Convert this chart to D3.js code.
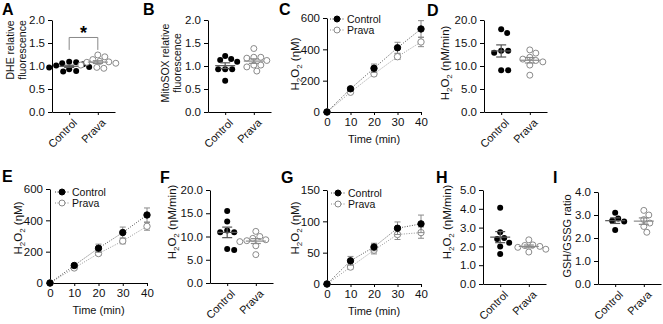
<!DOCTYPE html>
<html lang="en">
<head>
<meta charset="UTF-8" />
<title>Prava figure</title>
<script src="https://cdn.jsdelivr.net/npm/d3@7"></script>
<style>
  body { margin: 0; background: #fff; }
</style>
</head>
<body>
<script>
// ---- data ----
const groups = ["Control", "Prava"];
const times = [0, 10, 20, 30, 40];

// A: DHE relative fluorescence
const dheControl = [1.09, 1.08, 1.06, 1.04, 1.01, 0.98, 0.97, 0.93, 0.89, 0.88];
const dhePrava = [1.24, 1.20, 1.14, 1.10, 1.09, 1.08, 1.06, 1.02, 0.97, 0.95];
// B: MitoSOX relative fluorescence
const mitoControl = [1.22, 1.15, 1.13, 1.09, 0.93, 0.93, 0.93, 0.68];
const mitoPrava = [1.38, 1.19, 1.19, 1.17, 1.12, 1.02, 1.02, 0.98, 0.89];
// C: H2O2 time course (nM)
const cControlMean = [0, 148, 279, 410, 530];
const cControlSE = [0, 10, 27, 35, 53];
const cPravaMean = [0, 126, 243, 353, 447];
const cPravaSE = [0, 8, 12, 18, 30];
// D: H2O2 rate (nM/min)
const dControl = [18.0, 17.2, 13.3, 13.3, 12.9, 9.1, 9.1];
const dPrava = [13.5, 12.8, 11.9, 11.5, 11.2, 10.9, 10.2, 8.0];
// E: H2O2 time course (nM)
const eControlMean = [0, 112, 222, 322, 434];
const eControlSE = [0, 8, 26, 35, 45];
const ePravaMean = [0, 96, 188, 268, 362];
const ePravaSE = [0, 6, 10, 18, 25];
// F: H2O2 rate (nM/min)
const fControl = [15.5, 13.2, 11.3, 10.9, 10.9, 7.3, 7.1];
const fPrava = [11.1, 10.0, 9.6, 9.3, 9.1, 8.9, 8.0, 6.1];
// G: H2O2 time course (nM)
const gControlMean = [0, 37, 59, 89, 96];
const gControlSE = [0, 7, 6, 10, 14];
const gPravaMean = [0, 27, 54, 79, 82];
const gPravaSE = [0, 3, 6, 8, 9];
// H: H2O2 rate (nM/min)
const hControl = [4.05, 2.75, 2.45, 2.4, 2.2, 2.0, 1.6];
const hPrava = [2.35, 2.08, 2.05, 2.0, 1.95, 1.85, 1.7];
// I: GSH/GSSG ratio
const iControl = [3.1, 2.85, 2.75, 2.72, 2.35];
const iPrava = [3.2, 3.0, 2.8, 2.65, 2.5, 2.25];

// ---- drawing ----
const W = 663, H = 324;
const font = "Arial, 'Liberation Sans', sans-serif";
const pravaCol = "#8a8a8a";

const svg = d3.select("body").append("svg")
    .attr("width", W)
    .attr("height", H)
    .style("font-family", font);

function styleAxis(g) {
    g.attr("font-family", null).attr("font-size", 11.5);
    g.select(".domain").attr("stroke", "#000");
    g.selectAll(".tick line").attr("stroke", "#000");
    g.selectAll(".tick text").attr("fill", "#111");
}

function letter(txt, x, y) {
    svg.append("text").attr("x", x).attr("y", y)
        .attr("font-size", 16).attr("font-weight", "bold").text(txt);
}

// y label, either plain lines or the H2O2 one with subscripts
function yLabel(x, y, lines, size) {
    lines.forEach((ln, i) => {
        svg.append("text")
            .attr("transform", `translate(${x + i * 12},${y}) rotate(-90)`)
            .attr("text-anchor", "middle").attr("dy", "0.35em")
            .attr("font-size", size || 10.5).attr("fill", "#111").text(ln);
    });
}

function h2o2Label(x, y, unit) {
    let t = svg.append("text")
        .attr("transform", `translate(${x},${y}) rotate(-90)`)
        .attr("text-anchor", "middle").attr("dy", "0.35em")
        .attr("font-size", 11.5).attr("fill", "#111");
    t.append("tspan").text("H");
    t.append("tspan").text("2").attr("font-size", 8).attr("dy", 3);
    t.append("tspan").text("O").attr("dy", -3);
    t.append("tspan").text("2").attr("font-size", 8).attr("dy", 3);
    t.append("tspan").text(" (" + unit + ")").attr("dy", -3);
}

// simple beeswarm so dots with close values spread sideways
function swarm(values, y, r) {
    let order = d3.range(values.length).sort((a, b) => values[b] - values[a]);
    let placed = [];
    let off = [];
    let minD = 2 * r + 0.4;
    for (let i of order) {
        let yi = y(values[i]);
        for (let k = 0; k < 60; k++) {
            let dx = k === 0 ? 0 : (k % 2 ? 1 : -1) * Math.ceil(k / 2);
            if (placed.every(p => (p.dx - dx) ** 2 + (p.y - yi) ** 2 >= minD * minD)) {
                placed.push({ dx: dx, y: yi });
                off[i] = dx;
                break;
            }
        }
    }
    return off;
}

function scatterPanel(p) {
    let y = d3.scaleLinear().domain([0, p.yMax]).range([p.bottom, p.top]);
    let x = d3.scalePoint().domain(groups).range([p.left, p.left + 63]).padding(0.6);

    svg.append("g").attr("transform", `translate(${p.left},0)`)
        .call(d3.axisLeft(y).tickValues(p.ticks).tickFormat(d3.format(".1f")).tickSize(4).tickSizeOuter(0))
        .call(styleAxis);

    svg.append("g").attr("transform", `translate(0,${p.bottom})`)
        .call(d3.axisBottom(x).tickSize(3).tickSizeOuter(0).tickFormat(""))
        .call(styleAxis);

    svg.append("g").selectAll("text").data(groups).join("text")
        .attr("transform", d => `translate(${x(d) + 3},${p.bottom + 6}) rotate(-45)`)
        .attr("text-anchor", "end").attr("dy", "0.71em")
        .attr("font-size", 11).attr("fill", "#111")
        .text(d => d);

    [p.control, p.prava].forEach((vals, gi) => {
        let cx = x(groups[gi]);
        let off = swarm(vals, y, 3);
        let g = svg.append("g");
        g.selectAll("circle").data(vals).join("circle")
            .attr("cx", (d, i) => cx + off[i])
            .attr("cy", d => y(d))
            .attr("r", 3)
            .attr("fill", gi === 0 ? "#000" : "#fff")
            .attr("stroke", gi === 0 ? "#000" : pravaCol)
            .attr("stroke-width", gi === 0 ? 0 : 1);

        let m = d3.mean(vals);
        let se = d3.deviation(vals) / Math.sqrt(vals.length);
        let col = gi === 0 ? "#555" : "#8a8a8a";
        g.append("line").attr("x1", cx - 10).attr("x2", cx + 10)
            .attr("y1", y(m)).attr("y2", y(m)).attr("stroke", col).attr("stroke-width", 1.2);
        g.append("line").attr("x1", cx).attr("x2", cx)
            .attr("y1", y(m - se)).attr("y2", y(m + se)).attr("stroke", col).attr("stroke-width", 1.2);
        [m - se, m + se].forEach(v => {
            g.append("line").attr("x1", cx - 5).attr("x2", cx + 5)
                .attr("y1", y(v)).attr("y2", y(v)).attr("stroke", col).attr("stroke-width", 1.2);
        });
    });
    return { x: x, y: y };
}

function linePanel(p) {
    let x = d3.scaleLinear().domain([0, 40]).range([p.left, p.right]);
    let y = d3.scaleLinear().domain([0, p.yMax]).range([p.bottom, p.top]);

    svg.append("g").attr("transform", `translate(${p.left},0)`)
        .call(d3.axisLeft(y).tickValues(p.ticks).tickSize(4).tickSizeOuter(0))
        .call(styleAxis);
    svg.append("g").attr("transform", `translate(0,${p.bottom})`)
        .call(d3.axisBottom(x).tickValues(times).tickSize(3).tickSizeOuter(0))
        .call(styleAxis);

    svg.append("text").attr("x", (p.left + p.right) / 2).attr("y", p.bottom + 31)
        .attr("text-anchor", "middle").attr("font-size", 11).attr("fill", "#111")
        .text("Time (min)");

    let series = [
        { mean: p.controlMean, se: p.controlSE, line: "#444", fill: "#000", stroke: "#000" },
        { mean: p.pravaMean, se: p.pravaSE, line: pravaCol, fill: "#fff", stroke: pravaCol }
    ];
    let line = d3.line().x((d, i) => x(times[i])).y(d => y(d));

    // legend
    series.forEach((s, i) => {
        let ly = p.legY + i * 11;
        svg.append("line").attr("x1", p.legX - 7).attr("x2", p.legX + 7)
            .attr("y1", ly).attr("y2", ly).attr("stroke", s.line).attr("stroke-dasharray", "1,1.5");
        svg.append("circle").attr("cx", p.legX).attr("cy", ly).attr("r", 3)
            .attr("fill", s.fill).attr("stroke", s.stroke);
        svg.append("text").attr("x", p.legX + 10).attr("y", ly).attr("dy", "0.35em")
            .attr("font-size", 10.5).attr("fill", "#111").text(groups[i]);
    });

    series.slice().reverse().forEach(s => {
        let g = svg.append("g");
        g.append("path").attr("d", line(s.mean)).attr("fill", "none")
            .attr("stroke", s.line).attr("stroke-width", 0.9).attr("stroke-dasharray", "1,1.5");
        s.mean.forEach((m, i) => {
            if (!s.se[i]) return;
            let cx = x(times[i]);
            g.append("line").attr("x1", cx).attr("x2", cx)
                .attr("y1", y(m - s.se[i])).attr("y2", y(m + s.se[i]))
                .attr("stroke", pravaCol).attr("stroke-width", 1);
            [m - s.se[i], m + s.se[i]].forEach(v => {
                g.append("line").attr("x1", cx - 3).attr("x2", cx + 3)
                    .attr("y1", y(v)).attr("y2", y(v)).attr("stroke", pravaCol);
            });
        });
        g.selectAll("circle").data(s.mean).join("circle")
            .attr("cx", (d, i) => x(times[i])).attr("cy", d => y(d)).attr("r", 3.2)
            .attr("fill", s.fill).attr("stroke", s.stroke);
    });
}

// ---- panels ----
letter("A", 2, 15);
yLabel(10, 50, ["DHE relative", "fluorescence"], 10.5);
let pa = scatterPanel({ left: 52, top: 20, bottom: 112, yMax: 2, ticks: [0, 0.5, 1, 1.5, 2],
    control: dheControl, prava: dhePrava });
// significance bracket
let bx1 = pa.x("Control"), bx2 = pa.x("Prava");
svg.append("path")
    .attr("d", `M${bx1},${pa.y(1.35)}V${pa.y(1.62)}H${bx2}V${pa.y(1.35)}`)
    .attr("fill", "none").attr("stroke", "#888");
svg.append("text").attr("x", (bx1 + bx2) / 2).attr("y", pa.y(1.62) + 2)
    .attr("text-anchor", "middle").attr("font-size", 18).attr("font-weight", "bold").text("*");

letter("B", 143, 15);
yLabel(165, 63, ["MitoSOX relative", "fluorescence"], 10.5);
scatterPanel({ left: 208, top: 20, bottom: 112, yMax: 2, ticks: [0, 0.5, 1, 1.5, 2],
    control: mitoControl, prava: mitoPrava });

letter("C", 279, 15);
h2o2Label(295, 64, "ηM");
linePanel({ left: 327, right: 421, top: 18, bottom: 112, yMax: 600, ticks: [0, 200, 400, 600],
    controlMean: cControlMean, controlSE: cControlSE, pravaMean: cPravaMean, pravaSE: cPravaSE,
    legX: 337, legY: 19 });

letter("D", 427, 16);
h2o2Label(445, 63, "ηM/min");
scatterPanel({ left: 484, top: 20, bottom: 112, yMax: 20, ticks: [0, 5, 10, 15, 20],
    control: dControl, prava: dPrava });

letter("E", 2, 182);
h2o2Label(18, 228, "ηM");
linePanel({ left: 50, right: 147, top: 189, bottom: 283, yMax: 600, ticks: [0, 200, 400, 600],
    controlMean: eControlMean, controlSE: eControlSE, pravaMean: ePravaMean, pravaSE: ePravaSE,
    legX: 62, legY: 192 });

letter("F", 160, 183);
h2o2Label(172, 222, "ηM/min");
scatterPanel({ left: 210, top: 190, bottom: 283, yMax: 20, ticks: [0, 5, 10, 15, 20],
    control: fControl, prava: fPrava });

letter("G", 281, 183);
h2o2Label(295, 228, "ηM");
linePanel({ left: 327, right: 421, top: 190, bottom: 284, yMax: 150, ticks: [0, 50, 100, 150],
    controlMean: gControlMean, controlSE: gControlSE, pravaMean: gPravaMean, pravaSE: gPravaSE,
    legX: 338, legY: 193 });

letter("H", 436, 183);
h2o2Label(447, 222, "ηM/min");
scatterPanel({ left: 483, top: 190, bottom: 284, yMax: 5, ticks: [0, 1, 2, 3, 4, 5],
    control: hControl, prava: hPrava });

letter("I", 553, 183);
yLabel(567, 236, ["GSH/GSSG ratio"], 11);
scatterPanel({ left: 598, top: 192, bottom: 284, yMax: 4, ticks: [0, 1, 2, 3, 4],
    control: iControl, prava: iPrava });
</script>
</body>
</html>
